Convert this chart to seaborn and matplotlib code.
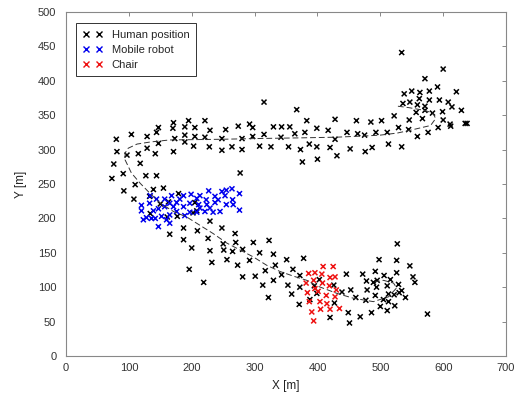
import matplotlib
matplotlib.use("Agg")
import matplotlib.pyplot as plt
from matplotlib.lines import Line2D
import pandas as pd
import seaborn as sns

# Human positions
human_upper = [
    (315, 369), (367, 358), (80, 315), (104, 322), (129, 319), (144, 325), (147, 332),
    (170, 331), (171, 339), (189, 333), (195, 342), (205, 332), (221, 342), (229, 328),
    (254, 329), (274, 334), (292, 337), (297, 332), (315, 322), (330, 333), (343, 333),
    (356, 333), (364, 323), (380, 325), (383, 342), (399, 331),
    (81, 297), (97, 292), (115, 294), (129, 302), (142, 294), (147, 309), (171, 297),
    (173, 316), (189, 321), (189, 311), (203, 305), (205, 319), (221, 318), (228, 304),
    (248, 316), (248, 299), (264, 304), (280, 316), (280, 300), (297, 319), (308, 305),
    (326, 304), (342, 318), (354, 304), (373, 300), (387, 308), (399, 304), (376, 282),
    (400, 286), (76, 279), (118, 280), (91, 265), (73, 258), (127, 262), (144, 262),
    (277, 266),
    (417, 328), (428, 344), (462, 342), (485, 340), (447, 325), (464, 323), (475, 321),
    (493, 325), (428, 315), (420, 303), (431, 291), (452, 301), (476, 297), (487, 303),
]
human_right = [
    (534, 441), (600, 417), (571, 403), (621, 384), (538, 381), (550, 385), (563, 383),
    (578, 385), (591, 391), (562, 374), (578, 372), (594, 372), (536, 367), (547, 369),
    (559, 365), (571, 363), (571, 357), (557, 354), (567, 345), (583, 353), (599, 355),
    (608, 369), (614, 362), (629, 357), (546, 343), (522, 349), (502, 342), (600, 343),
    (611, 337), (612, 334), (635, 338), (638, 338), (592, 332), (576, 325), (559, 319),
    (545, 329), (529, 332), (511, 325), (513, 308), (534, 304),
]
human_descent = [
    (110, 249), (92, 240), (108, 228), (139, 242), (155, 244), (133, 232), (150, 221),
    (163, 224), (179, 236), (134, 207), (161, 202), (177, 203), (205, 223), (208, 211),
    (202, 208), (229, 196), (187, 186), (209, 182), (248, 186), (269, 178), (165, 177),
    (187, 169), (226, 171), (250, 163), (200, 157), (229, 153), (251, 154), (270, 165),
    (265, 152), (281, 155), (298, 165), (323, 168), (308, 150), (330, 148), (292, 139),
    (232, 136), (256, 140), (273, 132), (317, 124), (333, 132), (351, 140), (361, 126),
    (378, 142), (281, 115), (301, 116), (343, 118), (372, 117), (196, 126), (219, 107),
    (330, 110), (313, 103), (353, 103), (372, 100), (359, 90), (322, 85), (371, 75),
    (388, 82), (403, 111), (399, 91), (395, 102),
]
human_lower = [
    (527, 163), (498, 140), (526, 139), (547, 131), (552, 115), (555, 107), (446, 119),
    (472, 119), (478, 109), (492, 123), (495, 110), (506, 117), (516, 111), (526, 121),
    (511, 102), (529, 104), (489, 107), (494, 100), (479, 96), (492, 88), (513, 90),
    (522, 89), (530, 92), (534, 95), (540, 85), (505, 82), (513, 79), (523, 73),
    (500, 72), (511, 66), (486, 63), (468, 57), (451, 48), (449, 63), (420, 56),
    (439, 93), (453, 96), (461, 85), (477, 81), (426, 103), (427, 77), (575, 61),
]
robot = [
    (227, 240), (248, 239), (255, 241), (264, 243), (253, 233), (237, 232), (213, 233),
    (208, 229), (199, 235), (187, 233), (168, 233), (157, 228), (144, 228), (134, 233),
    (133, 222), (120, 219), (120, 211), (123, 198), (128, 201), (136, 200), (139, 211),
    (147, 214), (157, 217), (165, 222), (176, 223), (187, 217), (197, 222), (211, 220),
    (224, 220), (223, 227), (237, 223), (242, 227), (255, 220), (266, 220), (276, 236),
    (276, 212), (265, 227), (245, 210), (234, 209), (221, 210), (208, 209), (197, 209),
    (189, 204), (176, 210), (165, 205), (160, 198), (152, 203), (147, 188), (142, 200),
    (171, 217), (181, 228), (213, 215), (229, 215), (165, 193),
]
chair = [
    (409, 130), (425, 130), (386, 120), (396, 121), (407, 119), (420, 114), (428, 115),
    (382, 106), (394, 110), (408, 106), (419, 102), (430, 96), (384, 92), (396, 98),
    (401, 94), (414, 88), (387, 79), (404, 79), (415, 76), (391, 64), (405, 68),
    (420, 68), (435, 69), (394, 51), (428, 86),
]
# dashed trajectory
path_x = [528, 545, 570, 584, 588, 580, 552, 527, 500, 480, 430, 372, 300, 250, 165,
          134, 113, 99, 94, 94, 104, 118, 134, 150, 171, 192, 213, 234, 256, 277, 298,
          319, 340, 362, 383, 399, 431, 457, 489, 513, 526, 521, 505, 492]
path_y = [363, 361, 357, 353, 345, 335, 329, 324, 321, 320, 318, 317, 316, 315, 314,
          311, 308, 302, 295, 285, 266, 251, 236, 222, 210, 202, 190, 178, 164, 154, 144,
          132, 123, 116, 110, 102, 91, 84, 79, 86, 99, 106, 110, 108]

labels = ["Human position", "Mobile robot", "Chair"]
colors = {"Human position": "black", "Mobile robot": "#0000ee", "Chair": "#ee1111"}

rows = []
for grp, pts in [("Human position", human_upper + human_right + human_descent + human_lower),
                 ("Mobile robot", robot), ("Chair", chair)]:
    for x, y in pts:
        rows.append({"x": x, "y": y, "group": grp})
df = pd.DataFrame(rows)

sns.set_style("white")
plt.rcParams['font.family'] = ['Liberation Sans', 'DejaVu Sans']

fig = plt.figure(figsize=(5.19, 4.01), dpi=100)
ax = fig.add_axes([0.1272, 0.1122, 0.8478, 0.858])

sns.lineplot(x=path_x, y=path_y, sort=False, estimator=None, color="#333333",
             linewidth=0.7, linestyle=(0, (6, 3)), ax=ax)
sns.scatterplot(data=df, x="x", y="y", hue="group", palette=colors, marker="x",
                s=13, linewidth=1.1, legend=False, ax=ax)

ax.set_xlim(0, 700)
ax.set_ylim(0, 500)
ax.set_xticks(range(0, 701, 100))
ax.set_yticks(range(0, 501, 50))
ax.set_xlabel("X [m]", fontsize=8.5, labelpad=5, color="#222222")
ax.set_ylabel("Y [m]", fontsize=8.5, labelpad=8, color="#222222")
ax.tick_params(direction="in", length=3, width=0.7, colors="#888888", labelcolor="#333333",
               labelsize=8, top=True, right=True, pad=5)
ax.tick_params(axis="y", pad=7)
for sp in ax.spines.values():
    sp.set_color("#888888")
    sp.set_linewidth(0.8)

handles = [Line2D([], [], marker="x", linestyle="none", color=colors[l], markersize=4,
                  markeredgewidth=1.0) for l in labels]
leg = ax.legend(handles, labels, loc="upper left", bbox_to_anchor=(0.0227, 0.968),
                borderaxespad=0, numpoints=2, fontsize=8, frameon=True, fancybox=False,
                edgecolor="#333333", framealpha=1, borderpad=0.6, handlelength=1.8,
                handletextpad=0.8, labelspacing=0.45)
leg.get_frame().set_linewidth(0.7)

fig.savefig("out.png", dpi=100)
